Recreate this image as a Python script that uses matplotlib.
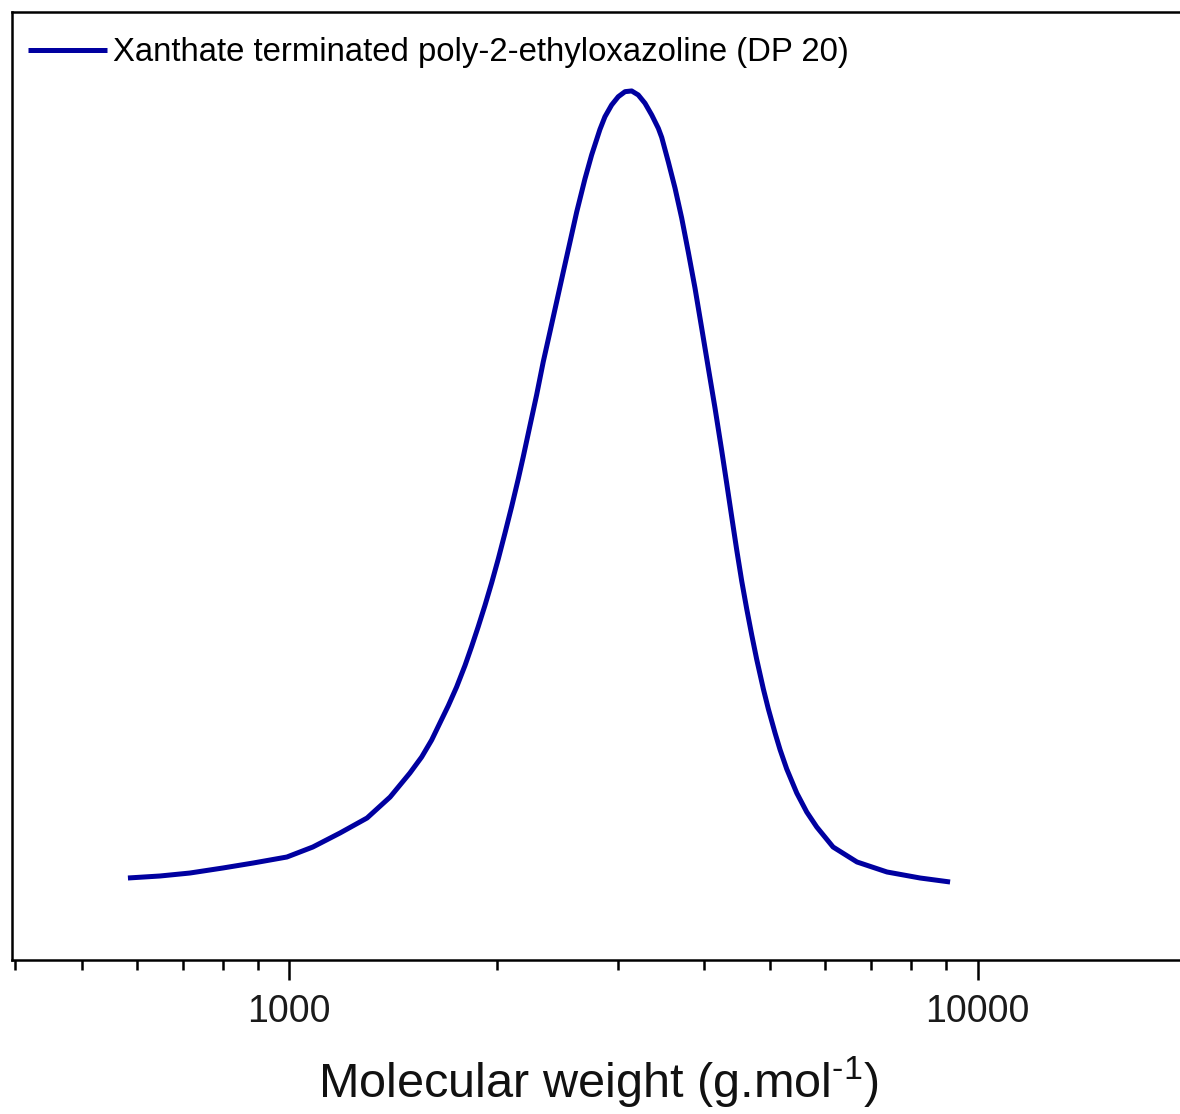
import matplotlib
matplotlib.use("Agg")
import matplotlib.pyplot as plt
from matplotlib.ticker import LogLocator, NullFormatter, FixedLocator, FixedFormatter

plt.rcParams['font.family'] = ['Liberation Sans', 'DejaVu Sans']
plt.rcParams['mathtext.fontset'] = 'custom'
plt.rcParams['mathtext.rm'] = 'Liberation Sans'
plt.rcParams['mathtext.it'] = 'Liberation Sans'

# Molecular weight (g/mol) and normalised detector response
mw = [583, 649, 717, 801, 886, 992, 1082, 1185, 1297, 1401, 1497, 1557, 1610,
      1655, 1702, 1750, 1800, 1840, 1881, 1924, 1968, 2012, 2057, 2104, 2151,
      2187, 2236, 2287, 2338, 2391, 2445, 2500, 2557, 2615, 2688, 2749, 2826,
      2874, 2939, 3005, 3074, 3143, 3213, 3286, 3361, 3436, 3475, 3553, 3633,
      3715, 3798, 3884, 3972, 4061, 4153, 4247, 4319, 4392, 4466, 4541, 4618,
      4696, 4775, 4882, 4964, 5077, 5162, 5279, 5459, 5644, 5836, 6164, 6677,
      7382, 8246, 9116]
signal = [0.0942, 0.0965, 0.0999, 0.1057, 0.1114, 0.1183, 0.1298, 0.1459,
          0.1631, 0.1872, 0.2148, 0.2332, 0.2527, 0.2723, 0.2921, 0.3136,
          0.3384, 0.3600, 0.3828, 0.4073, 0.4335, 0.4609, 0.4902, 0.5210,
          0.5528, 0.5781, 0.6134, 0.6491, 0.6870, 0.7214, 0.7559, 0.7903,
          0.8248, 0.8593, 0.8972, 0.9248, 0.9540,
          0.9687, 0.9822, 0.9917, 0.9975, 0.9983, 0.9937, 0.9842, 0.9707,
          0.9554, 0.9450, 0.9167, 0.8868,
          0.8524, 0.8133, 0.7720, 0.7260, 0.6801, 0.6341, 0.5853, 0.5474,
          0.5089, 0.4710, 0.4354, 0.4032, 0.3733, 0.3452, 0.3113, 0.2884,
          0.2607, 0.2417, 0.2194, 0.1918, 0.1700, 0.1528, 0.1298, 0.1126,
          0.1011, 0.0942, 0.0896]
series_label = "Xanthate terminated poly-2-ethyloxazoline (DP 20)"
major_ticks = [1000, 10000]
major_labels = ["1000", "10000"]

W, H = 1180, 1114
fig = plt.figure(figsize=(W / 100, H / 100), dpi=100)
left_px, right_px, top_px, bottom_px = 12, 1185, 12, 960
ax = fig.add_axes([left_px / W, 1 - bottom_px / H,
                   (right_px - left_px) / W, (bottom_px - top_px) / H])

line, = ax.plot(mw, signal, color='#0000A0', lw=3.6, label=series_label,
                solid_joinstyle='round', solid_capstyle='butt')

ax.set_xscale('log')
ax.set_xlim(395.6, 20000)
ax.set_ylim(0, 1.089)

ax.xaxis.set_major_locator(FixedLocator(major_ticks))
ax.xaxis.set_major_formatter(FixedFormatter(major_labels))
ax.xaxis.set_minor_locator(LogLocator(base=10, subs=range(2, 10)))
ax.xaxis.set_minor_formatter(NullFormatter())
ax.tick_params(axis='x', which='major', direction='out', length=14.4, width=1.8,
               labelsize=27, pad=10, labelcolor='#1a1a1a')
ax.tick_params(axis='x', which='minor', direction='out', length=7.2, width=1.8)
ax.set_yticks([])

for s in ['left', 'bottom', 'top']:
    ax.spines[s].set_linewidth(1.8)
ax.spines['right'].set_visible(False)

ax.set_xlabel(r'Molecular weight (g.mol$^{\text{-}1}$)',
              fontsize=35, labelpad=18, color='#111111')

leg = fig.legend(handles=[line], loc='center left',
                 bbox_to_anchor=(28 / W, 1 - 53 / H), frameon=False,
                 fontsize=23.7, handlelength=2.4, handletextpad=0.18,
                 borderpad=0, borderaxespad=0)

fig.savefig('out.png', dpi=100)
